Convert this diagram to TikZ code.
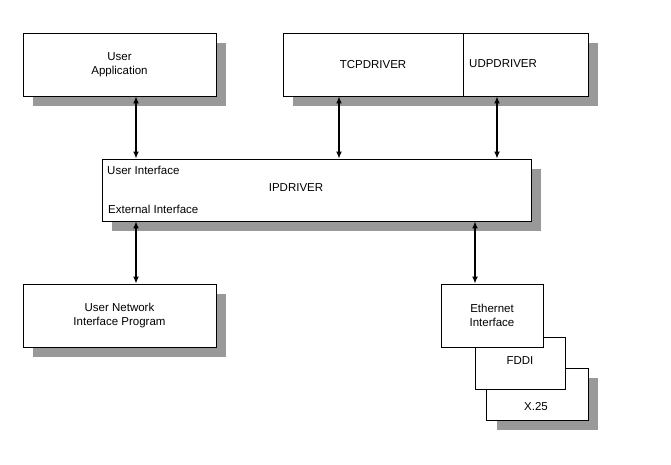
\documentclass[tikz,border=0pt]{standalone}
\usepackage{fontspec}
\setmainfont{Liberation Sans}
\usetikzlibrary{arrows.meta}
\tikzset{
  box/.style={draw=black, fill=white, line width=0.9pt, inner sep=0pt, align=center,
              font=\fontsize{11.5}{14}\selectfont},
  lbl/.style={inner sep=0pt, align=center, font=\fontsize{11.5}{14}\selectfont},
  shade/.style={fill=black!40, draw=none},
  link/.style={line width=1.3pt, {Latex[length=7pt,width=6pt]}-{Latex[length=7pt,width=6pt]}},
}
\begin{document}
\begin{tikzpicture}[x=1pt,y=-1pt]
\useasboundingbox[fill=white] (0,0) rectangle (671,464);
% shadows
\fill[shade] (33,43) rectangle (226,106);
\fill[shade] (293,43) rectangle (598,106);
\fill[shade] (112,169) rectangle (541,231);
\fill[shade] (33,294) rectangle (226,357);
\fill[shade] (497,378) rectangle (598,430);
% boxes
\node[box, minimum width=193pt, minimum height=63pt] (app) at (119.5,64.5) {User\\Application};
\node[box, minimum width=180pt, minimum height=63pt] (tcp) at (373,64.5) {TCPDRIVER};
\node[box, minimum width=125pt, minimum height=63pt] (udp) at (525.5,64.5) {};
\node[lbl, anchor=west] (udpl) at (469,64) {UDPDRIVER};
\node[box, minimum width=429pt, minimum height=62pt] (ip) at (316.5,190) {};
\node[lbl, anchor=west] (ui) at (107,170) {User Interface};
\node[lbl] (ipl) at (296,188) {IPDRIVER};
\node[lbl, anchor=west] (ei) at (108,209) {External Interface};
\node[box, minimum width=193pt, minimum height=63pt] (unip) at (119.5,315.5) {User Network\\Interface Program};
\node[box, minimum width=102pt, minimum height=52pt] (x25) at (537,394) {};
\node[lbl] (x25l) at (536,407) {X.25};
\node[box, minimum width=90pt, minimum height=52pt] (fddi) at (520,363) {};
\node[lbl] (fddil) at (520,361) {FDDI};
\node[box, minimum width=102pt, minimum height=63pt] (eth) at (492,315.5) {Ethernet\\Interface};
% connectors
\coordinate (c1) at (136,0);
\coordinate (c2) at (339,0);
\coordinate (c3) at (497,0);
\coordinate (c4) at (475,0);
\draw[link] (c1 |- app.south) -- (c1 |- ip.north);
\draw[link] (c2 |- tcp.south) -- (c2 |- ip.north);
\draw[link] (c3 |- udp.south) -- (c3 |- ip.north);
\draw[link] (c1 |- ip.south) -- (c1 |- unip.north);
\draw[link] (c4 |- ip.south) -- (c4 |- eth.north);
\end{tikzpicture}
\end{document}
